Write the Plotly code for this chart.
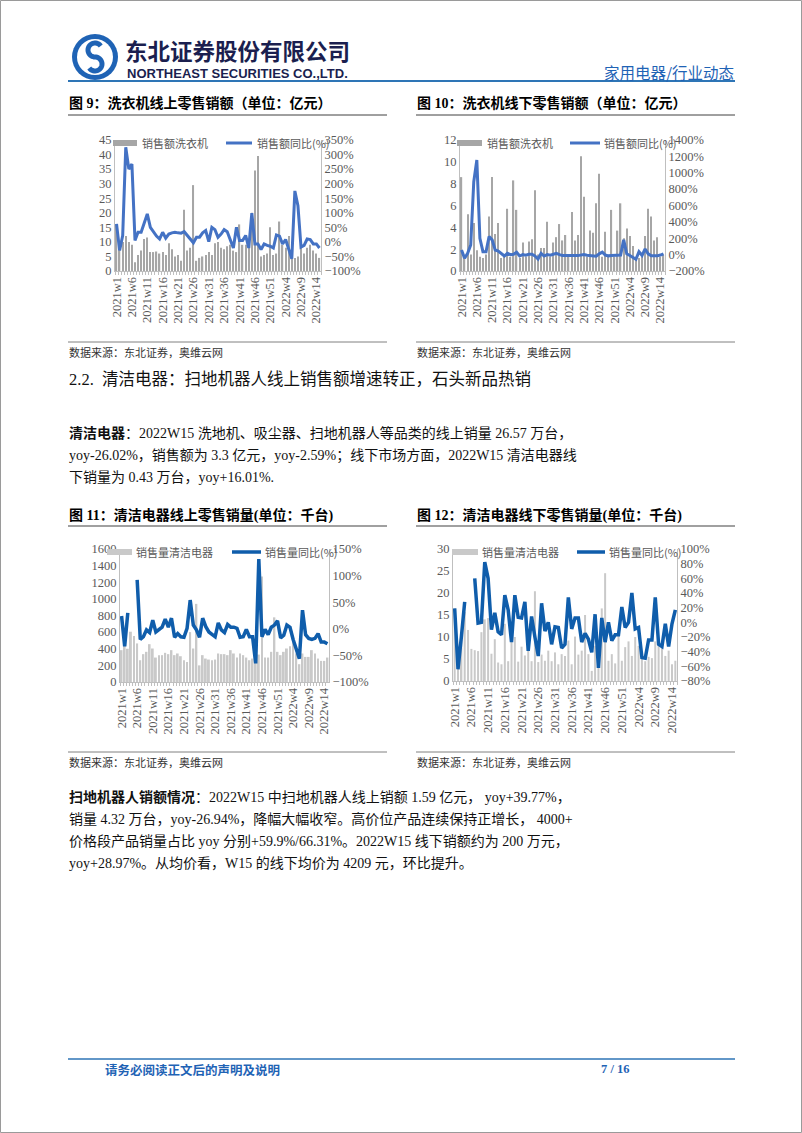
import plotly.graph_objects as go
import numpy as np

W, H = 802, 1133
def X(p): return p / W
def Y(p): return 1 - p / H

# ---------------- data ----------------
weeks = [f"2021w{i}" for i in range(1, 53)] + [f"2022w{i}" for i in range(1, 16)]
tick_labels = [w if i % 5 == 0 else "" for i, w in enumerate(weeks)]

# 图9 洗衣机线上零售销额（亿元）/ 同比（%）
wm_online_sales = [16, 8, 10, 12, 10, 9, 3, 5.5, 7, 11,
                   11.5, 6.5, 6.5, 6.7, 6, 6.5, 5.5, 9.5, 7.5, 5,
                   5.5, 3.5, 21, 7, 8, 29.5, 3.5, 4.5, 5, 5.5,
                   6.5, 5.5, 9.5, 10, 8, 7.5, 8.5, 9, 7, 6.5,
                   16, 9, 9, 8, 20, 34.5, 39.5, 5, 5.5, 6,
                   15, 5.5, 6, 17, 9, 8, 12, 5, 4.5, 5,
                   9, 6, 8, 9, 7, 6, 4.5]
wm_online_yoy = [62, -29, 22, 325, 250, 267, 5, 33, 33, 67,
                 96, 50, 33, 20, 10, 33, 13, 27, 31, 33,
                 31, 30, 35, 22, 10, -3, 16, 16, 31, 39,
                 1, 50, 42, 16, 27, 42, 35, 5, -21, 50,
                 5, 5, 22, -21, 99, -7, -7, -26, -7, -12,
                 -15, -21, 24, 20, -7, 8, -29, -58, 175, 124,
                 -18, -12, 10, 8, -7, -7, -21]

# 图10 洗衣机线下零售销额（亿元）/ 同比（%）
wm_offline_sales = [8.6, 1.2, 5.2, 1.5, 4.4, 1.9, 1.3, 1.2, 1.5, 5.0,
                    8.6, 3.4, 4.4, 1.2, 1.3, 5.7, 1.3, 8.3, 5.6, 1.2,
                    2.6, 1.3, 2.7, 2.9, 7.4, 1.5, 2.1, 2.1, 4.5, 1.3,
                    2.6, 3.1, 4.3, 2.8, 3.3, 1.3, 5.4, 2.8, 3.3, 10.5,
                    6.8, 1.3, 3.7, 3.5, 6.2, 8.9, 1.3, 3.6, 1.3, 5.6,
                    1.3, 3.7, 6.2, 3.0, 3.9, 3.2, 2.3, 1.3, 1.2, 1.3,
                    3.2, 5.7, 5.0, 2.8, 3.1, 1.3, 1.5]
wm_offline_yoy = [57, -45, 16, 118, 890, 1155, 200, 36, 36, 220,
                  180, 57, 44, 16, -17, 16, 0, 4, 28, -17,
                  0, -8, 4, 4, -17, -53, 16, -17, 0, -8,
                  0, 16, 0, -10, -10, -8, -5, -10, -12, -5,
                  0, -8, -10, -12, -20, 10, 30, -5, -15, -10,
                  -10, -10, -5, 180, 10, -10, -37, -57, 36, -10,
                  69, 10, -15, -15, -15, -5, 10]

# 图11 清洁电器线上零售销量（千台）/ 同比（%）
cl_online_vol = [383, 470, 400, 605, 552, 464, 262, 335, 363, 455,
                 403, 294, 323, 323, 351, 335, 383, 323, 343, 310,
                 262, 242, 600, 403, 940, 200, 323, 282, 270, 262,
                 270, 343, 335, 335, 323, 383, 343, 294, 343, 323,
                 294, 262, 282, 254, 330, 1270, 294, 294, 363, 778,
                 363, 323, 363, 403, 431, 504, 343, 214, 343, 302,
                 302, 383, 343, 282, 254, 254, 294]
cl_online_yoy = [24, -33, 30, None, None, 92, -20, -15, -2, -7,
                 16, -6, -2, 3, 18, 3, 20, -16, -9, -15,
                 -16, 1, 54, 7, -2, -16, 20, 4, -6, -11,
                 -15, 11, -2, -7, 8, 3, 3, 1, -16, -15,
                 -1, -15, -15, -65, 131, -15, -1, -11, 3, 7,
                 15, -17, -12, 7, 3, -20, -40, -56, 35, -11,
                 -18, -20, -18, -9, -25, -25, -28]

# 图12 清洁电器线下零售销量（千台）/ 同比（%）
cl_offline_vol = [16.5, 4.0, 9.3, 15.7, 11.6, 7.3, 7.0, 6.8, 11.1, 14.0,
                  14.3, 6.2, 9.5, 4.2, 3.8, 13.0, 4.5, 9.0, 10.0, 4.4,
                  7.8, 5.8, 7.0, 4.5, 20.4, 4.3, 6.0, 4.6, 6.9, 4.5,
                  6.5, 3.8, 6.1, 5.7, 9.2, 3.8, 10.1, 6.0, 6.9, 15.0,
                  6.1, 2.3, 8.0, 6.0, 16.5, 24.5, 4.6, 6.1, 4.0, 10.3,
                  4.6, 7.7, 9.0, 5.7, 10.0, 8.0, 6.0, 4.5, 5.5, 5.2,
                  9.0, 8.4, 7.7, 5.7, 6.9, 3.8, 4.6]
cl_offline_yoy = [19, -64, -20, 28, None, None, 60, -1, 0, 82,
                  60, -10, 13, -13, -17, 37, 17, -27, 37, 7,
                  6, 28, -39, 8, -20, -46, 26, -12, 0, -30,
                  -6, -7, -35, -30, 34, -9, 6, 6, -27, -15,
                  -23, -41, 11, -62, 6, -27, 0, -25, -17, -17,
                  21, -7, 0, 40, -9, -7, -48, -49, -24, -24,
                  34, -30, -33, -2, -33, -2, 17]

# ---------------- styling ----------------
SERIF = "Liberation Serif, Noto Sans CJK SC"
CJK = "Noto Sans CJK SC"
TICK_COLOR = "#595959"
AX_COLOR = "#bfbfbf"

charts = [
    dict(x0=115, x1=321, ytop=140, ybot=271, lrange=[0, 45], ldt=5, rrange=[-100, 350], rdt=50,
         bars=wm_online_sales, line=wm_online_yoy, bcol="#a6a6a6", lcol="#4472c4", bw=0.42, lw=3,
         bname="销售额洗衣机", lname="销售额同比(%)",
         leg=dict(r0=113, r1=137, t1=141, l0=226, l1=252, t2=256, y=143)),
    dict(x0=460, x1=665, ytop=140, ybot=271, lrange=[0, 12], ldt=2, rrange=[-200, 1400], rdt=200,
         bars=wm_offline_sales, line=wm_offline_yoy, bcol="#a6a6a6", lcol="#4472c4", bw=0.42, lw=3,
         bname="销售额洗衣机", lname="销售额同比(%)",
         leg=dict(r0=457, r1=482, t1=486, l0=570, l1=600, t2=603, y=143)),
    dict(x0=120, x1=329, ytop=549, ybot=682, lrange=[0, 1600], ldt=200, rrange=[-100, 150], rdt=50,
         bars=cl_online_vol, line=cl_online_yoy, bcol="#c9c9c9", lcol="#0f5dab", bw=0.6, lw=3.5,
         bname="销售量清洁电器", lname="销售量同比(%)",
         leg=dict(r0=107, r1=132, t1=135, l0=232, l1=261, t2=264, y=552)),
    dict(x0=453, x1=677, ytop=549, ybot=681, lrange=[0, 30], ldt=5, rrange=[-80, 100], rdt=20,
         bars=cl_offline_vol, line=cl_offline_yoy, bcol="#c9c9c9", lcol="#0f5dab", bw=0.6, lw=3.5,
         bname="销售量清洁电器", lname="销售量同比(%)",
         leg=dict(r0=452, r1=478, t1=481, l0=577, l1=605, t2=608, y=552)),
]

fig = go.Figure()
layout = {}
shapes = []
annotations = []

def ann(x, y, text, size, color="#000", family=SERIF, xanchor="left", yanchor="middle"):
    annotations.append(dict(x=X(x), y=Y(y), xref="paper", yref="paper", text=text,
                            showarrow=False, xanchor=xanchor, yanchor=yanchor,
                            font=dict(size=size, color=color, family=family), borderpad=0))

def hline(x0, x1, y, color, width):
    shapes.append(dict(type="line", xref="paper", yref="paper", x0=X(x0), x1=X(x1),
                       y0=Y(y), y1=Y(y), line=dict(color=color, width=width)))

for i, c in enumerate(charts):
    xk = "xaxis" if i == 0 else f"xaxis{i+1}"
    xr = "x" if i == 0 else f"x{i+1}"
    nl, nr = 2 * i + 1, 2 * i + 2
    ylk = "yaxis" if nl == 1 else f"yaxis{nl}"
    ylr = "y" if nl == 1 else f"y{nl}"
    yrk, yrr = f"yaxis{nr}", f"y{nr}"

    fig.add_trace(go.Bar(x=weeks, y=c["bars"], xaxis=xr, yaxis=ylr, marker_color=c["bcol"],
                         marker_line_width=0, width=c["bw"], showlegend=False, name=c["bname"]))
    fig.add_trace(go.Scatter(x=weeks, y=c["line"], xaxis=xr, yaxis=yrr, mode="lines",
                             line=dict(color=c["lcol"], width=c["lw"]), connectgaps=False,
                             showlegend=False, name=c["lname"]))

    layout[xk] = dict(domain=[X(c["x0"]), X(c["x1"])], anchor=ylr, type="category",
                      tickmode="array", tickvals=weeks, ticktext=tick_labels, tickangle=-90,
                      tickfont=dict(family=SERIF, size=12.5, color=TICK_COLOR),
                      showline=True, linecolor=AX_COLOR, linewidth=1, ticks="outside",
                      ticklen=3, tickcolor=AX_COLOR, tickson="boundaries", automargin=False,
                      range=[-0.5, len(weeks) - 0.5], showgrid=False, fixedrange=True)
    layout[ylk] = dict(domain=[Y(c["ybot"]), Y(c["ytop"])], anchor=xr, range=c["lrange"],
                       dtick=c["ldt"], tick0=0, showline=True, linecolor=AX_COLOR, linewidth=1,
                       ticks="", showgrid=False, zeroline=False, automargin=False,
                       tickfont=dict(family=SERIF, size=12.5, color=TICK_COLOR), fixedrange=True)
    layout[yrk] = dict(overlaying=ylr, side="right", anchor=xr, range=c["rrange"],
                       dtick=c["rdt"], tick0=0, ticksuffix="%", showline=True, linecolor=AX_COLOR,
                       linewidth=1, ticks="", showgrid=False, zeroline=False, automargin=False,
                       tickfont=dict(family=SERIF, size=12.5, color=TICK_COLOR), fixedrange=True)

    lg = c["leg"]
    shapes.append(dict(type="rect", xref="paper", yref="paper", x0=X(lg["r0"]), x1=X(lg["r1"]),
                       y0=Y(lg["y"] + 3), y1=Y(lg["y"] - 3), fillcolor=c["bcol"], line_width=0))
    ann(lg["t1"], lg["y"], c["bname"], 11, TICK_COLOR, CJK)
    hline(lg["l0"], lg["l1"], lg["y"], c["lcol"], c["lw"])
    ann(lg["t2"], lg["y"], c["lname"], 11, TICK_COLOR, CJK)

# ---------- chart titles, rules, sources ----------
ann(68, 103, "<b>图 9：洗衣机线上零售销额（单位：亿元）</b>", 14)
ann(416, 103, "<b>图 10：洗衣机线下零售销额（单位：亿元）</b>", 14)
ann(68, 515, "<b>图 11：清洁电器线上零售销量(单位：千台)</b>", 14)
ann(416, 515, "<b>图 12：清洁电器线下零售销量(单位：千台)</b>", 14)
hline(68, 387, 115, "#404040", 1)
hline(416, 735, 115, "#404040", 1)
hline(68, 387, 526, "#808080", 1.5)
hline(416, 735, 526, "#808080", 1.5)
hline(68, 387, 342, "#808080", 1)
hline(416, 735, 342, "#808080", 1)
hline(68, 387, 752, "#808080", 1)
hline(416, 735, 752, "#808080", 1)
ann(68, 352, "数据来源：东北证券，奥维云网", 11, "#333333", CJK)
ann(416, 352, "数据来源：东北证券，奥维云网", 11, "#333333", CJK)
ann(68, 762, "数据来源：东北证券，奥维云网", 11, "#333333", CJK)
ann(416, 762, "数据来源：东北证券，奥维云网", 11, "#333333", CJK)

# ---------- body text ----------
ann(68, 379, "2.2.  清洁电器：扫地机器人线上销售额增速转正，石头新品热销", 16.5, "#111")
body1 = ["<b>清洁电器</b>：2022W15 洗地机、吸尘器、扫地机器人等品类的线上销量 26.57 万台，",
         "yoy-26.02%，销售额为 3.3 亿元，yoy-2.59%；线下市场方面，2022W15 清洁电器线",
         "下销量为 0.43 万台，yoy+16.01%."]
for k, t in enumerate(body1):
    ann(68, 433 + 22 * k, t, 14, "#111")
body2 = ["<b>扫地机器人销额情况</b>：2022W15 中扫地机器人线上销额 1.59 亿元， yoy+39.77%，",
         "销量 4.32 万台，yoy-26.94%，降幅大幅收窄。高价位产品连续保持正增长， 4000+",
         "价格段产品销量占比 yoy 分别+59.9%/66.31%。2022W15 线下销额约为 200 万元，",
         "yoy+28.97%。从均价看，W15 的线下均价为 4209 元，环比提升。"]
for k, t in enumerate(body2):
    ann(68, 797 + 22.3 * k, t, 14, "#111")

# ---------- header ----------
BLUE = "#1f63b5"
shapes.append(dict(type="circle", xref="paper", yref="paper", x0=X(72), x1=X(118),
                   y0=Y(80), y1=Y(34), fillcolor=BLUE, line_width=0))
shapes.append(dict(type="circle", xref="paper", yref="paper", x0=X(77), x1=X(113),
                   y0=Y(75), y1=Y(39), fillcolor="white", line_width=0))
a1 = np.radians(np.linspace(35, 270, 30))
a2 = np.radians(np.linspace(90, -145, 30))
pts = [(95 + 7 * np.cos(a), 50 - 7 * np.sin(a)) for a in a1] + \
      [(95 + 7 * np.cos(a), 64 - 7 * np.sin(a)) for a in a2]
path = "M " + " L ".join(f"{X(px):.5f},{Y(py):.5f}" for px, py in pts)
shapes.append(dict(type="path", xref="paper", yref="paper", path=path,
                   line=dict(color=BLUE, width=5)))
ann(124, 50, "<b>东北证券股份有限公司</b>", 22.5, "#1b1f4f", CJK)
ann(126, 73, "<b>NORTHEAST SECURITIES CO.,LTD.</b>", 13, "#1b1f4f", "Liberation Sans")
ann(735, 72, "家用电器/行业动态", 15.5, BLUE, CJK, xanchor="right")
hline(68, 735, 81, "#2e75b6", 2)

# ---------- footer ----------
hline(68, 735, 1059, "#2e75b6", 1.5)
ann(104, 1069, "<b>请务必阅读正文后的声明及说明</b>", 12.5, BLUE, CJK)
ann(600, 1069, "<b>7 / 16</b>", 12.5, BLUE, "Liberation Serif")

# page border
shapes.append(dict(type="rect", xref="paper", yref="paper", x0=X(0.5), x1=X(801.5),
                   y0=Y(1132.5), y1=Y(0.5), line=dict(color="#9a9a9a", width=1)))

fig.update_layout(**layout)
fig.update_layout(width=W, height=H, autosize=False,
                  margin=dict(l=0, r=0, t=0, b=0, pad=0, autoexpand=False),
                  paper_bgcolor="white", plot_bgcolor="rgba(0,0,0,0)", showlegend=False,
                  shapes=shapes, annotations=annotations, barmode="overlay",
                  font=dict(family=SERIF))
fig.write_html("out.html", config={"displayModeBar": False})
